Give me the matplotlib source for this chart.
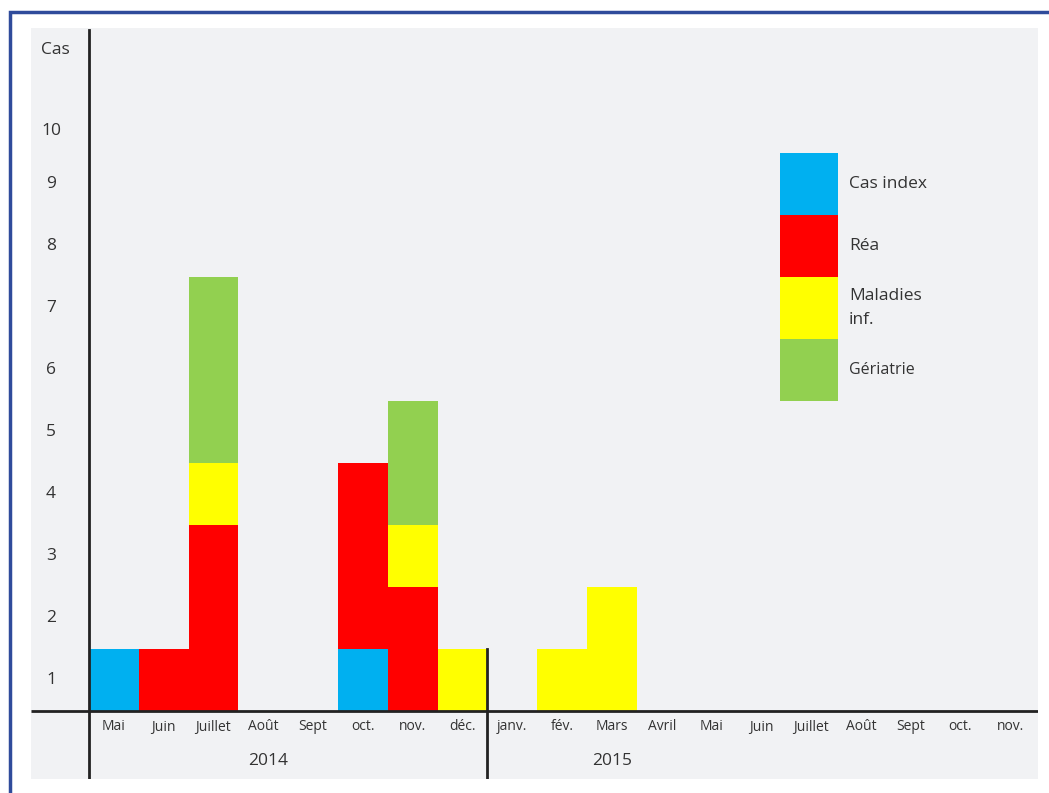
import matplotlib
matplotlib.use("Agg")
import matplotlib.pyplot as plt
from matplotlib.patches import Rectangle
import numpy as np

plt.rcParams['font.family'] = ['Open Sans', 'DejaVu Sans']

# data
months = ['Mai', 'Juin', 'Juillet', 'Août', 'Sept', 'oct.', 'nov.', 'déc.',
          'janv.', 'fév.', 'Mars', 'Avril', 'Mai', 'Juin', 'Juillet', 'Août',
          'Sept', 'oct.', 'nov.']
years = ['2014', '2015']
months_per_year = [8, 11]
cas_index = [1, 0, 0, 0, 0, 1, 0, 0, 0, 0, 0, 0, 0, 0, 0, 0, 0, 0, 0]
rea       = [0, 1, 3, 0, 0, 3, 2, 0, 0, 0, 0, 0, 0, 0, 0, 0, 0, 0, 0]
maladies  = [0, 0, 1, 0, 0, 0, 1, 1, 0, 1, 2, 0, 0, 0, 0, 0, 0, 0, 0]
geriatrie = [0, 0, 3, 0, 0, 0, 2, 0, 0, 0, 0, 0, 0, 0, 0, 0, 0, 0, 0]
y_ticks = ['1', '2', '3', '4', '5', '6', '7', '8', '9', '10']
series_names = ['Cas index', 'Réa', 'Maladies\ninf.', 'Gériatrie']

colors = ['#00B0F0', '#FF0000', '#FFFF00', '#92D050']
txt = '#333333'
W, H = 1049, 793

fig = plt.figure(figsize=(W / 100, H / 100), dpi=100)
fig.patch.set_facecolor('white')

# blue frame around the figure
fig.patches.append(Rectangle((10 / W, -0.1), 1.2, (H - 12) / H + 0.1,
                             transform=fig.transFigure, fill=False,
                             edgecolor='#2F4B9B', linewidth=2.5))

# grey plotting area: px 31..1038 x 28..779
ax = fig.add_axes([31 / W, 1 - 779 / H, (1038 - 31) / W, (779 - 28) / H])
ax.set_facecolor('#F1F2F4')
for s in ax.spines.values():
    s.set_visible(False)
ax.set_xticks([])
ax.set_yticks([])

ux = 49.8   # px per month
uy = 62.0   # px per case
x0 = -0.5 - (89 - 31) / ux
x1 = -0.5 + (1038 - 89) / ux
ya = -(779 - 711) / uy
yb = (711 - 28) / uy
ax.set_xlim(x0, x1)
ax.set_ylim(ya, yb)

x = np.arange(len(months))
bottom = np.zeros(len(months))
for vals, c in zip([cas_index, rea, maladies, geriatrie], colors):
    ax.bar(x, vals, width=1.0, bottom=bottom, color=c, linewidth=0)
    bottom += np.array(vals)

# axis lines
ax.plot([x0, x1], [0, 0], color='#222222', lw=2, solid_capstyle='butt')
ax.plot([-0.5, -0.5], [ya, (711 - 30) / uy], color='#222222', lw=2)
ax.plot([months_per_year[0] - 0.5] * 2, [ya, 1], color='#222222', lw=2)

# month labels
for i, m in enumerate(months):
    ax.text(i, -(727 - 711) / uy, m, ha='center', va='center',
            fontsize=10, color=txt)

# year labels (placed left of the group centre, as in the source)
year_pos = [3.1, 10.0]
for yr, xp in zip(years, year_pos):
    ax.text(xp, -(761 - 711) / uy, yr, ha='center',
            va='center', fontsize=12.5, color=txt)

# y tick labels
xl = -0.5 - (89 - 51) / ux
for i, t in enumerate(y_ticks):
    yy = i + 0.5 if i < 9 else 9.35
    ax.text(xl, yy, t, ha='center', va='center', fontsize=12.5, color=txt)
ax.text(-0.5 - (89 - 55) / ux, (711 - 50) / uy, 'Cas', ha='center',
        va='center', fontsize=12.5, color=txt)

# legend drawn as a stacked block
lx = -0.5 + (780 - 89) / ux
lw = (838 - 780) / ux
ly = 5.0
for k in range(len(series_names)):
    c = colors[len(colors) - 1 - k]
    ax.bar(lx + lw / 2, 1, width=lw, bottom=ly + k, color=c, linewidth=0)
tx = -0.5 + (849 - 89) / ux
for k, name in enumerate(series_names):
    yy = ly + 3.5 - k
    fs = 11.5 if name == 'Gériatrie' else 12.5
    ax.text(tx, yy, name, ha='left', va='center', fontsize=fs, color=txt,
            linespacing=1.7)

fig.savefig('out.png', dpi=100)
